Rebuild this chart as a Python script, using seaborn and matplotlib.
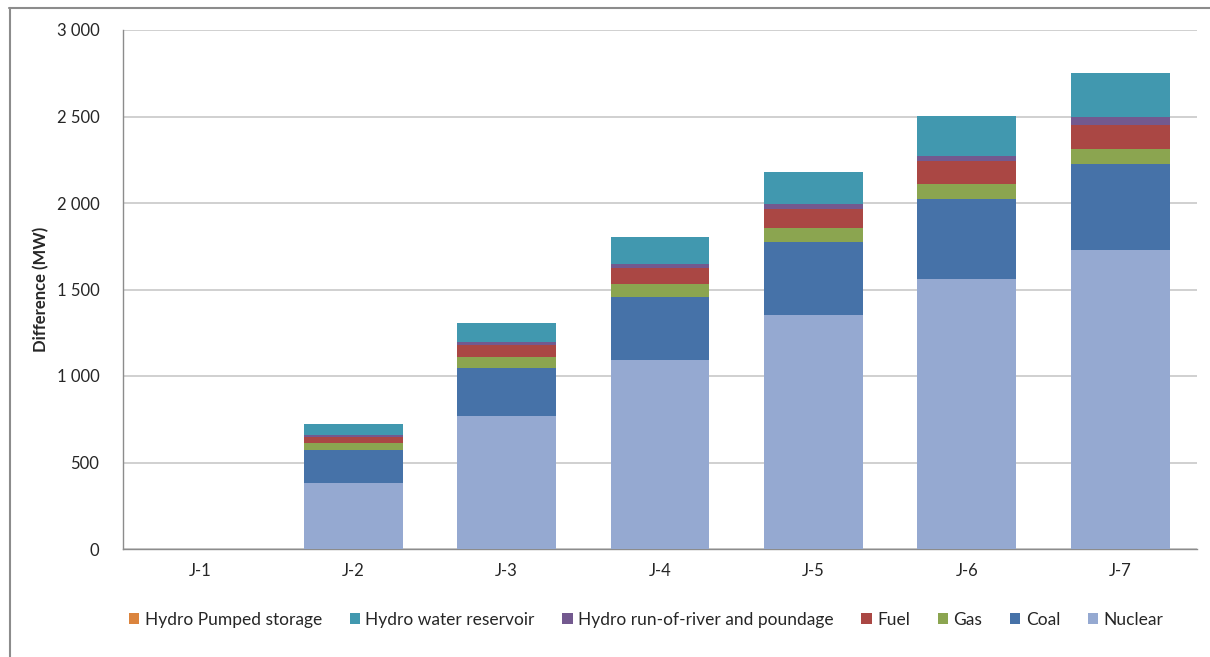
import numpy as np
import pandas as pd
import matplotlib
matplotlib.use("Agg")
import matplotlib.pyplot as plt
from matplotlib.patches import Patch
from matplotlib.lines import Line2D
from matplotlib.ticker import FuncFormatter
import seaborn as sns

#---Data (MW difference per category)---#
days = ["J-1", "J-2", "J-3", "J-4", "J-5", "J-6", "J-7"]
nuclear = [0, 383, 769, 1091, 1353, 1561, 1728]
coal = [0, 191, 276, 364, 420, 460, 496]
gas = [0, 40, 67, 79, 82, 91, 88]
fuel = [0, 32, 65, 92, 112, 129, 139]
hydro_ror = [0, 13, 18, 23, 25, 32, 44]
hydro_reservoir = [0, 65, 113, 154, 189, 228, 256]
hydro_pumped = [0, 0, 0, 0, 0, 0, 0]

series = ["Nuclear", "Coal", "Gas", "Fuel",
          "Hydro run-of-river and poundage", "Hydro water reservoir",
          "Hydro Pumped storage"]
values = [nuclear, coal, gas, fuel, hydro_ror, hydro_reservoir, hydro_pumped]
colors = {
    "Nuclear": "#95A9D1",
    "Coal": "#4672A8",
    "Gas": "#8BA550",
    "Fuel": "#AA4744",
    "Hydro run-of-river and poundage": "#73598F",
    "Hydro water reservoir": "#4198AF",
    "Hydro Pumped storage": "#DB843D",
}

df = pd.DataFrame(dict(zip(series, values)), index=days)
cum = df.cumsum(axis=1)

#---Plot---#
sns.set_style("white")
plt.rcParams["font.family"] = ["Lato", "DejaVu Sans"]

fig = plt.figure(figsize=(12.1, 6.57), dpi=100)
ax = fig.add_axes([123 / 1210, 1 - 549 / 657, (1197 - 123) / 1210, (549 - 30) / 657])

# stacked bars: draw cumulative totals from the top down
for name in reversed(series):
    sns.barplot(x=days, y=cum[name].values, color=colors[name], width=0.645,
                saturation=1, ax=ax, zorder=3, edgecolor="none")

ax.set_ylim(0, 3000)
ax.set_yticks(np.arange(0, 3001, 500))
ax.yaxis.set_major_formatter(FuncFormatter(lambda v, p: f"{int(v):,}".replace(",", " ")))
ax.grid(axis="y", color="#C8C8C8", linewidth=1.2, zorder=0)
ax.set_axisbelow(True)
for s in ["top", "right"]:
    ax.spines[s].set_visible(False)
for s in ["left", "bottom"]:
    ax.spines[s].set_color("#8C8C8C")
    ax.spines[s].set_linewidth(1.0)
ax.tick_params(axis="y", length=0, pad=17, labelsize=12)
ax.tick_params(axis="x", length=0, pad=10, labelsize=12)
ax.set_xlabel("")
ax.set_ylabel("Difference (MW)", fontweight="bold", fontsize=12, labelpad=5)

handles = [Patch(facecolor=colors[n], edgecolor="none") for n in reversed(series)]
fig.legend(handles, list(reversed(series)), loc="center", bbox_to_anchor=(0.534, 1 - 620 / 657),
           ncol=7, frameon=False, fontsize=12.5, handlelength=0.6, handleheight=0.6,
           handletextpad=0.3, columnspacing=1.6)

# chart border (top and left visible)
fig.add_artist(Line2D([9 / 1210, 1.0], [1 - 7.5 / 657] * 2, color="#8C8C8C", lw=1.5))
fig.add_artist(Line2D([9.5 / 1210] * 2, [0, 1 - 7.5 / 657], color="#8C8C8C", lw=1.5))

fig.savefig("out.png", dpi=100)
